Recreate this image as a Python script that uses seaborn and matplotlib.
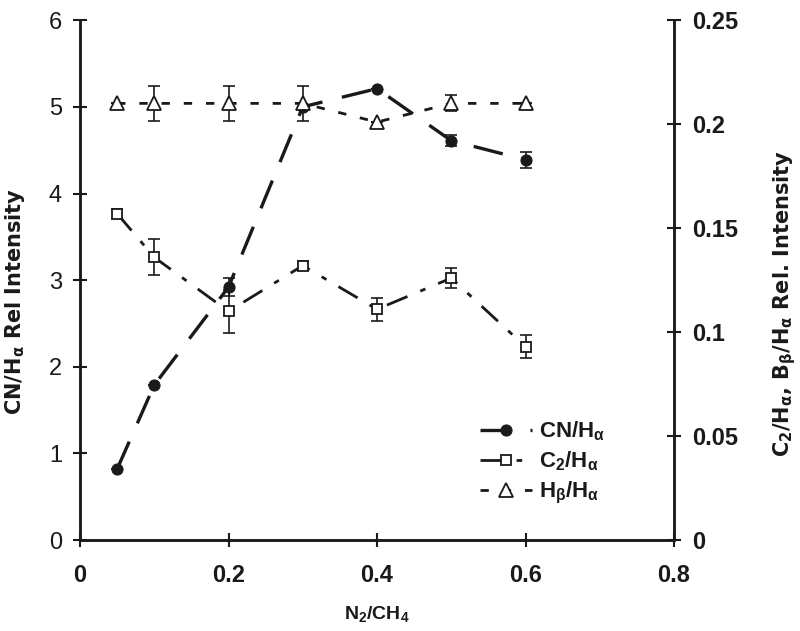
import matplotlib
matplotlib.use("Agg")
import matplotlib.pyplot as plt
import seaborn as sns

sns.set_theme(style="white")
plt.rcParams["font.family"] = ["Liberation Sans", "DejaVu Sans"]
plt.rcParams["mathtext.default"] = "regular"

# data
ratio = [0.05, 0.1, 0.2, 0.3, 0.4, 0.5, 0.6]
cn = [0.82, 1.79, 2.92, 5.0, 5.21, 4.61, 4.39]
cn_err = [0.0, 0.0, 0.1, 0.0, 0.0, 0.06, 0.09]
c2 = [0.157, 0.136, 0.110, 0.132, 0.111, 0.126, 0.093]
c2_err = [0.002, 0.0087, 0.0105, 0.002, 0.0055, 0.0048, 0.0055]
hb = [0.210, 0.210, 0.210, 0.210, 0.201, 0.210, 0.210]
hb_err = [0.0, 0.0083, 0.0083, 0.0083, 0.0, 0.0038, 0.0]

x_ticks = [0, 0.2, 0.4, 0.6, 0.8]
x_ticklabels = ["0", "0.2", "0.4", "0.6", "0.8"]
left_ticks = [0, 1, 2, 3, 4, 5, 6]
right_ticks = [0, 0.05, 0.1, 0.15, 0.2, 0.25]
right_ticklabels = ["0", "0.05", "0.1", "0.15", "0.2", "0.25"]

ink = "#1a1a1a"

fig = plt.figure(figsize=(8, 6.31), dpi=100)
ax = fig.add_axes([0.1, 0.144, 0.7425, 0.824])
ax2 = ax.twinx()

# CN on left axis
ax.errorbar(ratio, cn, yerr=cn_err, fmt="none", ecolor=ink, elinewidth=1.2, capsize=4, capthick=1.2)
sns.lineplot(x=ratio, y=cn, ax=ax, color=ink, linewidth=2.4, marker="o", markersize=8,
             markerfacecolor=ink, markeredgecolor=ink, legend=False)
h_cn = ax.lines[-1]
h_cn.set_dashes([9, 6])

# C2 and Hb on right axis
ax2.errorbar(ratio, c2, yerr=c2_err, fmt="none", ecolor=ink, elinewidth=1.2, capsize=4, capthick=1.2)
sns.lineplot(x=ratio, y=c2, ax=ax2, color=ink, linewidth=2.0, marker="s", markersize=7.5,
             markerfacecolor="white", markeredgecolor=ink, markeredgewidth=1.3, legend=False)
h_c2 = ax2.lines[-1]
h_c2.set_dashes([8, 5, 2, 5])
ax2.errorbar(ratio, hb, yerr=hb_err, fmt="none", ecolor=ink, elinewidth=1.2, capsize=4, capthick=1.2)
sns.lineplot(x=ratio, y=hb, ax=ax2, color=ink, linewidth=2.0, marker="^", markersize=9.5,
             markerfacecolor="white", markeredgecolor=ink, markeredgewidth=1.3, legend=False)
h_hb = ax2.lines[-1]
h_hb.set_dashes([3, 5])

ax.set_xlim(0, 0.8)
ax.set_ylim(0, 6)
ax2.set_ylim(0, 0.25)
ax.set_xticks(x_ticks)
ax.set_xticklabels(x_ticklabels, fontweight="bold", fontsize=17)
ax.set_yticks(left_ticks)
ax.set_yticklabels([str(t) for t in left_ticks], fontsize=17)
ax2.set_yticks(right_ticks)
ax2.set_yticklabels(right_ticklabels, fontweight="bold", fontsize=17)

for a in (ax, ax2):
    a.grid(False)
    a.spines["top"].set_visible(False)
    for s in ("left", "right", "bottom"):
        a.spines[s].set_color(ink)
        a.spines[s].set_linewidth(1.8)
    a.tick_params(direction="inout", length=10, width=1.5, color=ink, labelcolor=ink, pad=6)
ax.tick_params(axis="x", pad=12)
ax.tick_params(axis="y", pad=8)
ax.tick_params(left=True, bottom=True)
ax2.tick_params(right=True, pad=8)

ax.set_xlabel("N$_2$/CH$_4$", fontsize=14, fontweight="bold", color=ink)
ax.xaxis.set_label_coords(0.5, -0.123)
ax.set_ylabel("CN/H$_α$ Rel Intensity", family="DejaVu Sans", fontsize=15,
              fontweight="bold", color=ink)
ax.yaxis.set_label_coords(-0.089, 0.46)
ax2.set_ylabel("C$_2$/H$_α$, B$_β$/H$_α$ Rel. Intensity", family="DejaVu Sans", fontsize=15,
               fontweight="bold", color=ink, rotation=90)
ax2.yaxis.set_label_coords(1.163, 0.455)

leg = ax2.legend([h_cn, h_c2, h_hb], ["CN/H$_α$", "C$_2$/H$_α$", "H$_β$/H$_α$"],
                 loc="center left", bbox_to_anchor=(0.64, 0.149), frameon=False,
                 prop={"size": 16, "weight": "bold"}, handlelength=2.35,
                 handletextpad=0.3, labelspacing=0.3)
for t in leg.get_texts():
    t.set_color(ink)

fig.savefig("out.png", dpi=100)
